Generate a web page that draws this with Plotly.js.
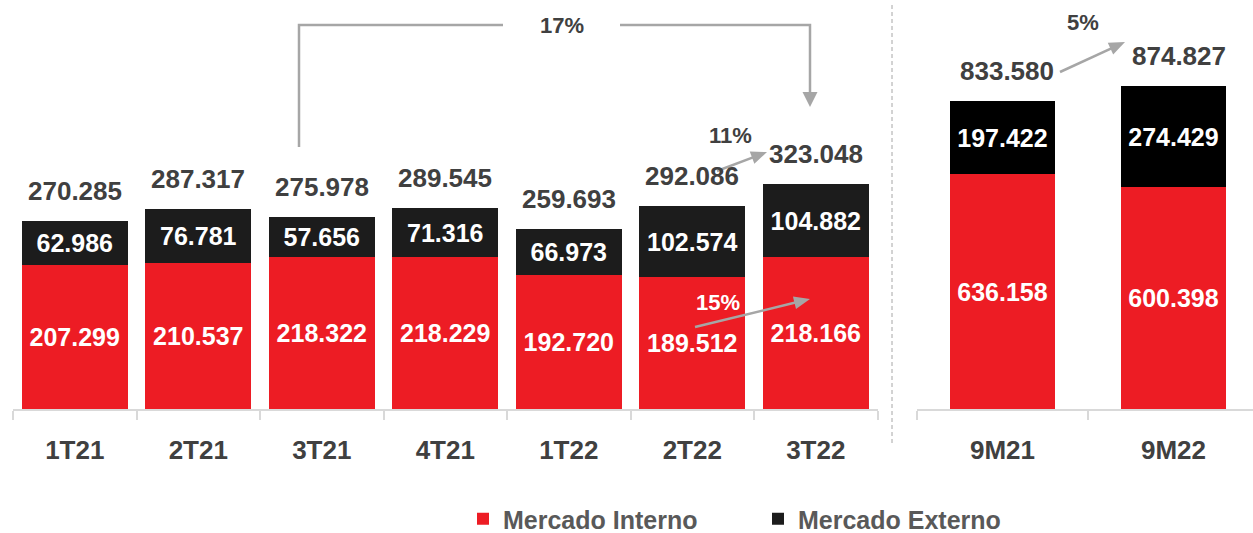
<!DOCTYPE html>
<html><head><meta charset="utf-8">
<script src="https://cdn.plot.ly/plotly-3.0.1.min.js"></script>
<style>html,body{margin:0;padding:0;background:#fff;overflow:hidden}</style>
</head><body><div id="chart" style="width:1253px;height:533px"></div>
<script>
// ---- data ----
const quarters = ['1T21','2T21','3T21','4T21','1T22','2T22','3T22'];
const internoQ = [207.299,210.537,218.322,218.229,192.720,189.512,218.166];
const externoQ = [62.986,76.781,57.656,71.316,66.973,102.574,104.882];
const totalQ   = [270.285,287.317,275.978,289.545,259.693,292.086,323.048];
const periods  = ['9M21','9M22'];
const internoP = [636.158,600.398];
const externoP = [197.422,274.429];
const totalP   = [833.580,874.827];
const seriesNames = ['Mercado Interno','Mercado Externo'];
const growthLabels = ['17%','11%','15%','5%'];

// ---- styles ----
const W = 1253, H = 533, MB = 124, PH = H - MB;
const RED = '#ED1C24', BLK = '#1C1C1C', GRAY = '#A6A6A6', TXT = '#404040';
const FONT = 'Liberation Sans, Arial, sans-serif';
const fmt = v => v.toFixed(3);
const px = x => x / W;
const py = y => (PH - y) / PH;

function barTrace(x, y, name, color, xa, ya, width, size, showlegend) {
  return {
    type: 'bar', x: x, y: y, name: name, xaxis: xa, yaxis: ya,
    width: width, showlegend: showlegend, legendgroup: name,
    marker: {color: color, line: {width: 0}},
    text: y.map(fmt), textposition: 'inside', insidetextanchor: 'middle',
    textangle: 0, constraintext: 'none',
    textfont: {family: FONT, size: size, color: '#FFFFFF', weight: 'bold'},
    hoverinfo: 'skip'
  };
}

const data = [
  barTrace(quarters, internoQ, seriesNames[0], RED, 'x', 'y', 0.86, 25, true),
  barTrace(quarters, externoQ, seriesNames[1], BLK, 'x', 'y', 0.86, 25, true),
  barTrace(periods, internoP, seriesNames[0], RED, 'x2', 'y2', 0.614, 25, false),
  barTrace(periods, externoP, seriesNames[1], '#000000', 'x2', 'y2', 0.614, 25, false)
];

const annotations = [];
quarters.forEach((q, i) => annotations.push({
  x: q, y: totalQ[i], xref: 'x', yref: 'y', text: fmt(totalQ[i]), showarrow: false,
  yanchor: 'middle', yshift: 30, font: {family: FONT, size: 26, color: TXT, weight: 'bold'}
}));
periods.forEach((p, i) => annotations.push({
  x: p, y: totalP[i], xref: 'x2', yref: 'y2', text: fmt(totalP[i]), showarrow: false,
  yanchor: 'middle', yshift: 30, xshift: 5, font: {family: FONT, size: 26, color: TXT, weight: 'bold'}
}));

function pctLabel(text, x, y, color) {
  return {xref: 'paper', yref: 'paper', x: px(x), y: py(y), text: text, showarrow: false,
    xanchor: 'center', yanchor: 'middle',
    font: {family: FONT, size: 22, color: color, weight: 'bold'}};
}
annotations.push(pctLabel(growthLabels[0], 562, 25, TXT));
annotations.push(pctLabel(growthLabels[1], 730, 135, TXT));
annotations.push(pctLabel(growthLabels[2], 718, 302, '#FFFFFF'));
annotations.push(pctLabel(growthLabels[3], 1083, 23, TXT));

const shapes = [];
function pathShape(pts, fill, width) {
  const d = pts.map((p, i) => (i ? 'L' : 'M') + px(p[0]) + ',' + py(p[1])).join(' ') + (fill ? ' Z' : '');
  return {type: 'path', xref: 'paper', yref: 'paper', path: d,
    line: {color: GRAY, width: fill ? 0 : width}, fillcolor: fill ? GRAY : 'rgba(0,0,0,0)'};
}
function arrow(x0, y0, x1, y1, len, wid) {
  const dx = x1 - x0, dy = y1 - y0, L = Math.hypot(dx, dy), ux = dx / L, uy = dy / L;
  const bx = x1 - ux * len, by = y1 - uy * len, nx = -uy, ny = ux;
  shapes.push(pathShape([[x0, y0], [bx + ux, by + uy]], false, 2.5));
  shapes.push(pathShape([[x1, y1], [bx + nx * wid / 2, by + ny * wid / 2], [bx - nx * wid / 2, by - ny * wid / 2]], true));
}
// 17% bracket
shapes.push(pathShape([[299, 147], [299, 25], [503, 25]], false, 2.5));
shapes.push(pathShape([[620, 25], [810, 25], [810, 93]], false, 2.5));
shapes.push(pathShape([[810, 107], [802.5, 92], [817.5, 92]], true));
// other arrows
arrow(717, 171, 767, 152, 16, 13);
arrow(695, 327, 810, 299, 16, 13);
arrow(1060, 72, 1125, 42, 16, 13);
// separator
shapes.push({type: 'line', xref: 'paper', yref: 'paper', x0: px(892), x1: px(892), y0: py(5), y1: py(443),
  line: {color: GRAY, width: 1, dash: '4px,3px'}});

const xCommon = {
  type: 'category', showline: true, linecolor: '#D9D9D9', linewidth: 2,
  ticks: 'outside', tickson: 'boundaries', ticklen: 9, tickcolor: '#D9D9D9', tickwidth: 2,
  showgrid: false, zeroline: false, fixedrange: true, ticklabelstandoff: 17,
  tickfont: {family: FONT, size: 26, color: TXT, weight: 'bold'}
};
const yCommon = {showgrid: false, zeroline: false, showticklabels: false, showline: false, ticks: '', fixedrange: true};

const layout = {
  width: W, height: H, paper_bgcolor: '#FFFFFF', plot_bgcolor: 'rgba(0,0,0,0)',
  margin: {l: 0, r: 0, t: 0, b: MB, autoexpand: false},
  barmode: 'stack', hovermode: false, showlegend: true,
  xaxis: Object.assign({}, xCommon, {domain: [px(13), px(877.5)], range: [-0.5, 6.5], anchor: 'y'}),
  yaxis: Object.assign({}, yCommon, {range: [0, PH / 0.695], anchor: 'x'}),
  xaxis2: Object.assign({}, xCommon, {domain: [px(917), 1], range: [-0.5, -0.5 + 336 / 171], anchor: 'y2'}),
  yaxis2: Object.assign({}, yCommon, {range: [0, PH / 0.369], anchor: 'x2'}),
  legend: {orientation: 'h', x: px(463), xanchor: 'left', y: py(519), yanchor: 'middle',
    entrywidth: 250, entrywidthmode: 'pixels', tracegroupgap: 0,
    font: {family: FONT, size: 25, color: '#595959', weight: 'bold'}, bgcolor: 'rgba(0,0,0,0)'},
  annotations: annotations, shapes: shapes,
  font: {family: FONT}
};

Plotly.newPlot('chart', data, layout, {displayModeBar: false, staticPlot: true});
</script></body></html>
